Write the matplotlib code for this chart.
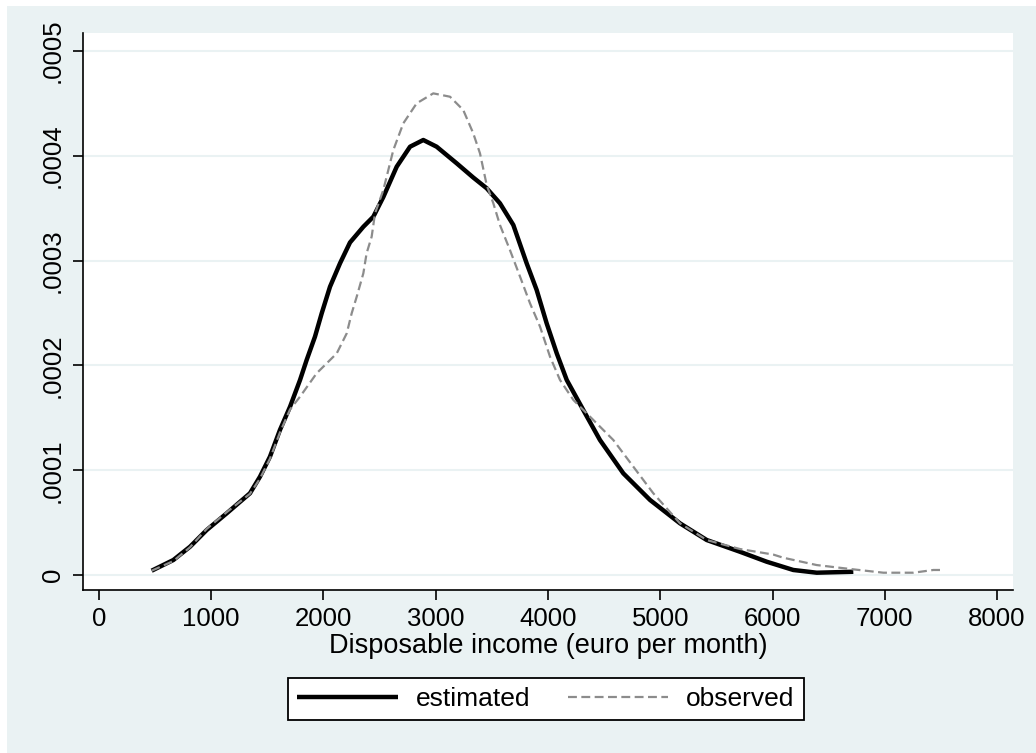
import numpy as np
import matplotlib
matplotlib.use("Agg")
import matplotlib.pyplot as plt
from matplotlib.patches import Rectangle

# density of disposable income
est_income = [469, 662, 811, 959, 1138, 1345, 1434, 1523, 1612, 1702, 1791, 1850,
              1924, 1984, 2058, 2147, 2236, 2355, 2444, 2533, 2652, 2771, 2889,
              3008, 3187, 3334, 3454, 3572, 3691, 3810, 3899, 3988, 4078, 4167,
              4345, 4463, 4671, 4909, 5176, 5414, 5710, 5948, 6185, 6394, 6720]
est_density = [4.1e-6, 1.43e-5, 2.70e-5, 4.29e-5, 5.89e-5, 7.80e-5, 9.38e-5,
               1.129e-4, 1.384e-4, 1.606e-4, 1.861e-4, 2.052e-4, 2.274e-4,
               2.497e-4, 2.751e-4, 2.974e-4, 3.173e-4, 3.323e-4, 3.419e-4,
               3.607e-4, 3.896e-4, 4.087e-4, 4.151e-4, 4.087e-4, 3.928e-4,
               3.793e-4, 3.690e-4, 3.547e-4, 3.340e-4, 2.974e-4, 2.720e-4,
               2.402e-4, 2.115e-4, 1.861e-4, 1.515e-4, 1.288e-4, 9.70e-5,
               7.16e-5, 4.93e-5, 3.34e-5, 2.22e-5, 1.27e-5, 4.8e-6, 2.2e-6, 3.1e-6]

obs_income = [469, 662, 811, 959, 1138, 1345, 1434, 1523, 1612, 1702, 1791, 1939,
              2118, 2207, 2251, 2296, 2355, 2384, 2429, 2459, 2533, 2622, 2711,
              2830, 2978, 3127, 3245, 3334, 3394, 3454, 3513, 3572, 3661, 3751,
              3840, 3929, 4018, 4107, 4226, 4404, 4582, 4760, 4938, 5176, 5414,
              5710, 6007, 6096, 6394, 6720, 6988, 7255, 7433, 7492]
obs_density = [4.1e-6, 1.33e-5, 2.65e-5, 4.40e-5, 6.00e-5, 7.75e-5, 9.20e-5,
               1.110e-4, 1.360e-4, 1.580e-4, 1.702e-4, 1.925e-4, 2.115e-4,
               2.306e-4, 2.497e-4, 2.656e-4, 2.879e-4, 3.070e-4, 3.228e-4,
               3.451e-4, 3.674e-4, 4.055e-4, 4.310e-4, 4.501e-4, 4.596e-4,
               4.564e-4, 4.437e-4, 4.215e-4, 4.024e-4, 3.721e-4, 3.547e-4,
               3.340e-4, 3.101e-4, 2.847e-4, 2.592e-4, 2.370e-4, 2.083e-4,
               1.861e-4, 1.670e-4, 1.479e-4, 1.288e-4, 1.034e-4, 7.80e-5,
               4.93e-5, 3.34e-5, 2.48e-5, 1.95e-5, 1.65e-5, 9.5e-6, 5.4e-6,
               2.2e-6, 2.2e-6, 4.8e-6, 4.8e-6]

x_ticks = [0, 1000, 2000, 3000, 4000, 5000, 6000, 7000, 8000]
y_ticks = [0, 0.0001, 0.0002, 0.0003, 0.0004, 0.0005]
y_ticklabels = ["0", ".0001", ".0002", ".0003", ".0004", ".0005"]

plt.rcParams["font.family"] = ["Liberation Sans", "DejaVu Sans"]
bg = "#eaf2f3"

W, H = 1036, 753
fig = plt.figure(figsize=(W / 100, H / 100), dpi=100, facecolor="white")
# stata graph region, behind the axes
fig.add_artist(Rectangle((7 / W, 0), 1 - 7 / W, 1 - 6 / H, transform=fig.transFigure,
                         facecolor=bg, edgecolor="none", zorder=-10))

ax = fig.add_axes([83 / W, 1 - 590 / H, (1013 - 83) / W, (590 - 33) / H])
ax.set_facecolor("white")

ax.plot(est_income, est_density, color="black", lw=3.2, solid_capstyle="butt",
        solid_joinstyle="round", label="estimated", zorder=3)
ax.plot(obs_income, obs_density, color="#8c8c8c", lw=1.6, dashes=(4, 2),
        label="observed", zorder=4)

ax.set_xlim(-142.5, 8142.5)
ax.set_ylim(-1.43e-5, 5.172e-4)
ax.set_xticks(x_ticks)
ax.set_yticks(y_ticks)
ax.set_yticklabels(y_ticklabels, rotation=90, va="center")
ax.grid(axis="y", color=bg, lw=1.5)
ax.set_axisbelow(True)
for s in ["top", "right"]:
    ax.spines[s].set_visible(False)
for s in ["left", "bottom"]:
    ax.spines[s].set_linewidth(1.2)
ax.tick_params(axis="both", labelsize=18.5, length=7, width=1.2, color="black")
ax.tick_params(axis="x", pad=5.5)
ax.tick_params(axis="y", pad=6)

fig.text(548 / W, 1 - 646 / H, "Disposable income (euro per month)",
         ha="center", va="center", fontsize=19.5)

leg = fig.legend(loc="center", bbox_to_anchor=(546 / W, 1 - 699 / H), ncol=2,
                 fontsize=19, frameon=True, fancybox=False, framealpha=1,
                 handlelength=3.8, handletextpad=0.7, columnspacing=1.4,
                 borderpad=0.35)
leg.get_frame().set_edgecolor("black")
leg.get_frame().set_linewidth(1.3)

fig.savefig("out.png", dpi=100, facecolor=fig.get_facecolor())
